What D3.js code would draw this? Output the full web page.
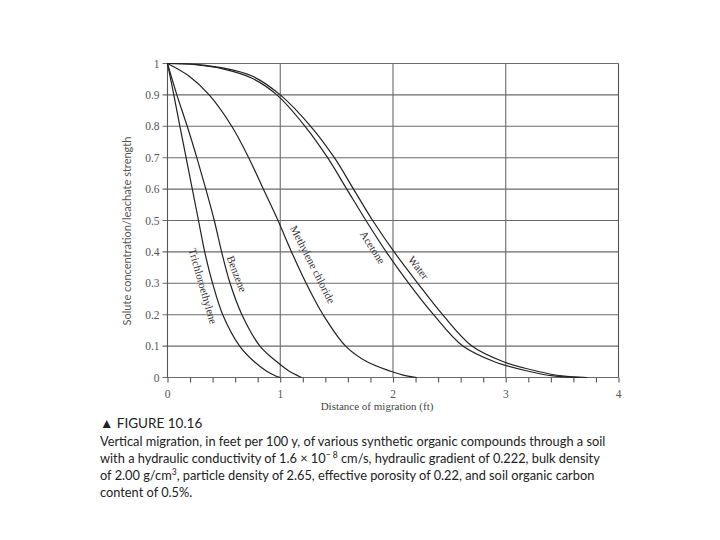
<!DOCTYPE html>
<html>
<head>
<meta charset="utf-8">
<script src="https://cdn.jsdelivr.net/npm/d3@7"></script>
<style>
  body { margin: 0; background: #fff; }
</style>
</head>
<body>
<div id="chart"></div>
<script>
// distance of migration (ft) vs relative concentration
const trichloroethylene = [[0,1],[0.056,0.9],[0.11,0.8],[0.165,0.7],[0.22,0.6],[0.275,0.5],[0.33,0.4],[0.4,0.3],[0.49,0.2],[0.64,0.1],[0.77,0.05],[0.88,0.02],[0.96,0.005],[1.0,0]];
const benzene = [[0,1],[0.083,0.9],[0.175,0.8],[0.26,0.7],[0.34,0.6],[0.415,0.5],[0.48,0.4],[0.555,0.3],[0.66,0.2],[0.82,0.1],[0.97,0.05],[1.08,0.02],[1.16,0.005],[1.19,0]];
const methyleneChloride = [[0,1],[0.19,0.96],[0.37,0.9],[0.57,0.8],[0.72,0.7],[0.85,0.6],[0.98,0.5],[1.1,0.4],[1.23,0.3],[1.38,0.2],[1.58,0.1],[1.77,0.05],[1.98,0.02],[2.12,0.005],[2.21,0]];
const acetone = [[0,1],[0.25,0.996],[0.5,0.982],[0.75,0.953],[0.97,0.9],[1.22,0.8],[1.42,0.7],[1.59,0.6],[1.76,0.5],[1.94,0.4],[2.14,0.3],[2.36,0.2],[2.62,0.1],[2.9,0.05],[3.2,0.02],[3.42,0.005],[3.65,0]];
const water = [[0,1],[0.25,0.997],[0.5,0.985],[0.75,0.96],[1.0,0.9],[1.27,0.8],[1.48,0.7],[1.65,0.6],[1.82,0.5],[2.01,0.4],[2.22,0.3],[2.44,0.2],[2.7,0.1],[2.98,0.05],[3.28,0.02],[3.5,0.005],[3.72,0]];

const xTicks = [0, 1, 2, 3, 4];
const xMinorTicks = d3.range(0, 4.01, 0.2);
const yTicks = [0, 0.1, 0.2, 0.3, 0.4, 0.5, 0.6, 0.7, 0.8, 0.9, 1];
const yTickLabels = ["0", "0.1", "0.2", "0.3", "0.4", "0.5", "0.6", "0.7", "0.8", "0.9", "1"];

// curve labels: name, series, concentration where label sits, side offset, angle
const curveLabels = [
    {name: "Trichloroethylene", series: trichloroethylene, at: 0.3, off: -10, angle: 74},
    {name: "Benzene", series: benzene, at: 0.32, off: 9, angle: 69},
    {name: "Methylene chloride", series: methyleneChloride, at: 0.34, off: 14, angle: 63},
    {name: "Acetone", series: acetone, at: 0.43, off: -9, angle: 57},
    {name: "Water", series: water, at: 0.33, off: 10, angle: 52}
];

const captionLines = [
    "Vertical migration, in feet per 100 y, of various synthetic organic compounds through a soil",
    null, // built with superscript below
    null,
    "content of 0.5%."
];

const width = 720, height = 540;
const plot = {left: 167.5, right: 618.5, top: 63.5, bottom: 377.5};

const svg = d3.select("#chart").append("svg")
    .attr("width", width)
    .attr("height", height);

svg.append("rect").attr("width", width).attr("height", height).attr("fill", "#fff");

const xScale = d3.scaleLinear().domain([0, 4]).range([plot.left, plot.right]);
const yScale = d3.scaleLinear().domain([0, 1]).range([plot.bottom, plot.top]);

const gridColor = "#6a6a6a";
const labelFont = "'Liberation Serif', 'DejaVu Serif', serif";

// horizontal grid lines (they stick out a bit left as ticks)
svg.append("g")
    .selectAll("line")
    .data(yTicks)
    .join("line")
    .attr("x1", plot.left - 5)
    .attr("x2", plot.right)
    .attr("y1", d => yScale(d))
    .attr("y2", d => yScale(d))
    .attr("stroke", gridColor)
    .attr("stroke-width", 1.1);

// vertical grid lines at whole feet
svg.append("g")
    .selectAll("line")
    .data(xTicks)
    .join("line")
    .attr("x1", d => xScale(d))
    .attr("x2", d => xScale(d))
    .attr("y1", plot.top)
    .attr("y2", plot.bottom)
    .attr("stroke", d => (d === 0 || d === 4) ? "#555" : gridColor)
    .attr("stroke-width", 1.1);

// x axis with minor ticks every 0.2 ft
const xAxis = d3.axisBottom(xScale)
    .tickValues(xMinorTicks)
    .tickSize(5)
    .tickFormat("");
const xAxisG = svg.append("g")
    .attr("transform", "translate(0," + plot.bottom + ")")
    .call(xAxis);
xAxisG.select(".domain").remove();
xAxisG.selectAll("line").attr("stroke", "#555").attr("stroke-width", 1.1);

svg.append("g")
    .selectAll("text")
    .data(xTicks)
    .join("text")
    .attr("x", d => xScale(d))
    .attr("y", plot.bottom + 20)
    .attr("text-anchor", "middle")
    .attr("font-family", labelFont)
    .attr("font-size", 11.5)
    .attr("fill", "#555")
    .text(d => d);

svg.append("g")
    .selectAll("text")
    .data(yTicks)
    .join("text")
    .attr("x", plot.left - 8)
    .attr("y", d => yScale(d) + 4)
    .attr("text-anchor", "end")
    .attr("font-family", labelFont)
    .attr("font-size", 11.5)
    .attr("fill", "#555")
    .text((d, i) => yTickLabels[i]);

// axis titles
svg.append("text")
    .attr("x", 377)
    .attr("y", 410)
    .attr("text-anchor", "middle")
    .attr("font-family", labelFont)
    .attr("font-size", 11)
    .attr("fill", "#444")
    .text("Distance of migration (ft)");

svg.append("text")
    .attr("transform", "translate(131,231) rotate(-90)")
    .attr("text-anchor", "middle")
    .attr("font-family", "Lato, 'Open Sans', sans-serif")
    .attr("font-size", 11)
    .attr("fill", "#555")
    .text("Solute concentration/leachate strength");

// the five breakthrough curves
const line = d3.line()
    .x(d => xScale(d[0]))
    .y(d => yScale(d[1]))
    .curve(d3.curveCatmullRom.alpha(0.5));

const allSeries = [trichloroethylene, benzene, methyleneChloride, acetone, water];
svg.append("g")
    .selectAll("path")
    .data(allSeries)
    .join("path")
    .attr("d", line)
    .attr("fill", "none")
    .attr("stroke", "#222")
    .attr("stroke-width", 1.2);

// labels written along the curves
function xAtConc(series, c) {
    for (let i = 1; i < series.length; i++) {
        const a = series[i - 1], b = series[i];
        if (c <= a[1] && c >= b[1]) {
            const t = (a[1] - c) / (a[1] - b[1]);
            return a[0] + t * (b[0] - a[0]);
        }
    }
    return series[0][0];
}

svg.append("g")
    .selectAll("text")
    .data(curveLabels)
    .join("text")
    .attr("transform", d => {
        const px = xScale(xAtConc(d.series, d.at));
        const py = yScale(d.at);
        const rad = d.angle * Math.PI / 180;
        // shift perpendicular to the curve
        const ox = px + d.off * Math.sin(rad);
        const oy = py - d.off * Math.cos(rad);
        return "translate(" + ox + "," + oy + ") rotate(" + d.angle + ")";
    })
    .attr("text-anchor", "middle")
    .attr("dy", "0.35em")
    .attr("font-family", labelFont)
    .attr("font-size", 11)
    .attr("fill", "#333")
    .text(d => d.name);

// caption
const capFont = "Lato, 'Open Sans', sans-serif";
const capSize = 12.8;
const cap = svg.append("g").attr("font-family", capFont).attr("fill", "#222");

cap.append("text")
    .attr("x", 100)
    .attr("y", 428)
    .attr("font-size", 13.5)
    .text("\u25B2 FIGURE 10.16");

const capY = [446, 463, 480, 497];
cap.append("text")
    .attr("x", 100).attr("y", capY[0]).attr("font-size", capSize)
    .text(captionLines[0]);

const l2 = cap.append("text").attr("x", 100).attr("y", capY[1]).attr("font-size", capSize);
l2.append("tspan").text("with a hydraulic conductivity of 1.6 \u00D7 10");
l2.append("tspan").attr("dy", -5).attr("font-size", 8.5).text("\u2212 8");
l2.append("tspan").attr("dy", 5).text(" cm/s, hydraulic gradient of 0.222, bulk density");

const l3 = cap.append("text").attr("x", 100).attr("y", capY[2]).attr("font-size", capSize);
l3.append("tspan").text("of 2.00 g/cm");
l3.append("tspan").attr("dy", -5).attr("font-size", 8.5).text("3");
l3.append("tspan").attr("dy", 5).text(", particle density of 2.65, effective porosity of 0.22, and soil organic carbon");

cap.append("text")
    .attr("x", 100).attr("y", capY[3]).attr("font-size", capSize)
    .text(captionLines[3]);
</script>
</body>
</html>
